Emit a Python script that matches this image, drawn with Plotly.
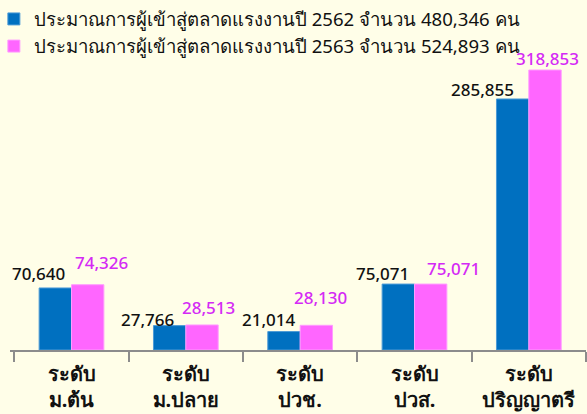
import plotly.graph_objects as go

categories = ["ระดับ<br>ม.ต้น", "ระดับ<br>ม.ปลาย", "ระดับ<br>ปวช.", "ระดับ<br>ปวส.", "ระดับ<br>ปริญญาตรี"]
series_names = [
    "ประมาณการผู้เข้าสู่ตลาดแรงงานปี 2562 จำนวน 480,346 คน",
    "ประมาณการผู้เข้าสู่ตลาดแรงงานปี 2563 จำนวน 524,893 คน",
]
values_2562 = [70640, 27766, 21014, 75071, 285855]
values_2563 = [74326, 28513, 28130, 75071, 318853]

# label offsets (pixels) relative to category centre / bar top, as placed in the original
label_dx_2562 = [-33, -38, -31, -32, -46]
label_dy_2562 = [14, 6, 12, 11, 9]
label_dx_2563 = [30, 23, 20, 39, 19]
label_dy_2563 = [22, 17, 28, 16, 11]

BLUE = "#0070C0"
PINK = "#FF66FF"
PINK_TEXT = "#D42AF5"
BG = "#FFFEE8"
FONT = "Noto Sans, DejaVu Sans, sans-serif"

fig = go.Figure()
fig.add_trace(go.Bar(x=categories, y=values_2562, name=series_names[0],
                     marker=dict(color=BLUE, line=dict(width=1, color="#4D9BD6"))))
fig.add_trace(go.Bar(x=categories, y=values_2563, name=series_names[1],
                     marker=dict(color=PINK, line=dict(width=1, color="#FF9CFF"))))

annotations = []
for c, v, dx, dy in zip(categories, values_2562, label_dx_2562, label_dy_2562):
    annotations.append(dict(x=c, y=v, xref="x", yref="y", text=f"{v:,}", showarrow=False,
                            xshift=dx, yshift=dy, yanchor="middle",
                            font=dict(family=FONT, size=17, color="#111111", weight=500)))
for c, v, dx, dy in zip(categories, values_2563, label_dx_2563, label_dy_2563):
    annotations.append(dict(x=c, y=v, xref="x", yref="y", text=f"{v:,}", showarrow=False,
                            xshift=dx, yshift=dy, yanchor="middle",
                            font=dict(family=FONT, size=17, color=PINK_TEXT, weight=500)))

fig.update_layout(
    width=587, height=414,
    margin=dict(l=10, r=1, t=40, b=64, autoexpand=False),
    paper_bgcolor=BG, plot_bgcolor=BG,
    barmode="group", bargap=0.434, bargroupgap=0,
    font=dict(family=FONT, size=18, color="#111111"),
    showlegend=True,
    legend=dict(x=-0.028, y=1.128, xanchor="left", yanchor="top", orientation="v",
                bgcolor="rgba(0,0,0,0)", font=dict(size=18.6), itemwidth=30, tracegroupgap=0),
    annotations=annotations,
)
fig.update_xaxes(showline=True, linecolor="#8c8c8c", linewidth=2, ticks="outside", tickson="boundaries",
                 ticklen=10, tickwidth=2, tickcolor="#8c8c8c", showgrid=False, ticklabelstandoff=5,
                 tickfont=dict(family=FONT, size=20, color="#111111", weight="bold"))
fig.update_yaxes(range=[0, 353000], visible=False, showgrid=False)

fig.write_html("out.html", config={"displayModeBar": False},
               post_script="document.body.style.margin='0';document.body.style.background='%s';" % BG)
